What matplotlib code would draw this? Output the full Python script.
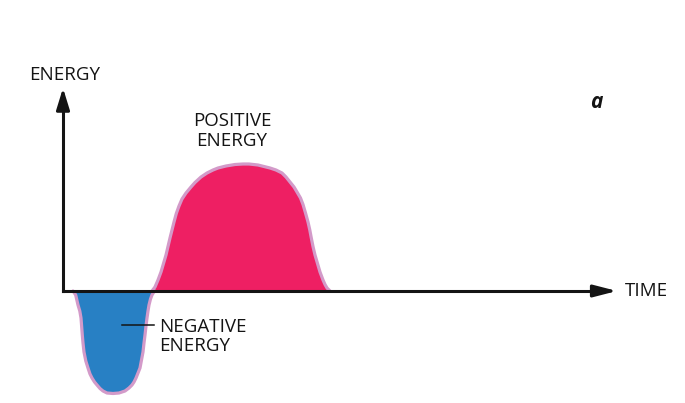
import numpy as np
import matplotlib.pyplot as plt

# profile of the two lobes
# time (px right of origin), energy (px above the time axis)
neg_t = [10, 12.7, 15, 16.8, 18, 18.7, 19.3, 20, 21, 22.8, 25, 27, 29, 31.5, 34, 37, 40, 44, 50,
         56, 62, 66, 69, 71, 73, 75, 77, 78.5, 80, 81, 82, 83, 84, 85, 86, 87.5, 89, 90.5, 92]
neg_e = [0, -4, -14, -20, -27, -36, -44, -52, -61, -70, -77, -83, -87, -91, -94, -97.5, -100, -102, -102.5,
         -102, -100, -97, -94, -91, -87, -82, -77, -69, -61, -52, -44, -35, -27, -20, -14, -8, -4, -1.5, 0]

pos_t = [89, 92, 95, 98, 100.5, 103, 105, 107, 109, 111, 113.3, 116, 119, 123, 128, 132, 138, 144, 150, 155,
         163, 172, 180, 186, 195, 207, 213, 219, 223, 227, 231, 234, 237.5, 240, 242.5, 245, 246.8, 248.3,
         250, 252, 254.5, 257, 260, 262, 264, 267]
pos_e = [0, 4, 11, 19, 27.5, 36, 44.5, 53, 61, 69, 77.5, 85, 92, 98, 104, 108.5, 114, 118, 121, 123,
         125, 126.5, 127, 127, 126, 123, 121, 118, 114, 109, 104, 99, 93, 86.5, 78, 69, 61, 53,
         44.5, 36, 27.5, 19, 11, 6.5, 3, 0]

outline = '#d39ac9'
pink = '#ee1f63'
blue = '#2880c4'
ink = '#141414'

fig = plt.figure(figsize=(6.85, 4.03), dpi=100)
ax = fig.add_axes([0, 0, 1, 1])
ax.set_xlim(-63, 622)
ax.set_ylim(-112, 291)
ax.axis('off')

ax.fill_between(neg_t, neg_e, 0, color=blue, lw=0, zorder=1)
ax.plot(neg_t, neg_e, color=outline, lw=2.3, solid_joinstyle='round', solid_capstyle='round', zorder=2)
ax.fill_between(pos_t, pos_e, 0, color=pink, lw=0, zorder=1)
ax.plot(pos_t, pos_e, color=outline, lw=2.3, solid_joinstyle='round', solid_capstyle='round', zorder=2)

# axes with arrows
ax.plot([0, 540], [0, 0], color=ink, lw=2.2, zorder=3)
ax.plot([0, 0], [0, 190], color=ink, lw=2.2, zorder=3)
ax.annotate('', xy=(554, 0), xytext=(530, 0),
            arrowprops=dict(arrowstyle='-|>,head_length=1.4,head_width=0.36', lw=2.2, color=ink,
                            shrinkA=0, shrinkB=0), zorder=4)
ax.annotate('', xy=(0, 203), xytext=(0, 180),
            arrowprops=dict(arrowstyle='-|>,head_length=1.3,head_width=0.4', lw=2.2, color=ink,
                            shrinkA=0, shrinkB=0), zorder=4)

fs = 13.5
fam = ['Open Sans', 'DejaVu Sans']
ax.text(2, 216, 'ENERGY', ha='center', va='center', fontsize=fs, family=fam, color=ink)
ax.text(562, 0, 'TIME', ha='left', va='center', fontsize=fs, family=fam, color=ink)
ax.text(169, 160, 'POSITIVE\nENERGY', ha='center', va='center', fontsize=fs, family=fam,
        color=ink, linespacing=1.1)
ax.text(96, -45.5, 'NEGATIVE\nENERGY', ha='left', va='center', fontsize=fs, family=fam,
        color=ink, linespacing=1.1)
ax.plot([59, 91], [-34, -34], color=ink, lw=1.1, zorder=3)
ax.text(533, 189, 'a', ha='center', va='center', fontsize=15, family=fam,
        weight='bold', style='italic', color=ink)

fig.savefig('out.png', dpi=100)
